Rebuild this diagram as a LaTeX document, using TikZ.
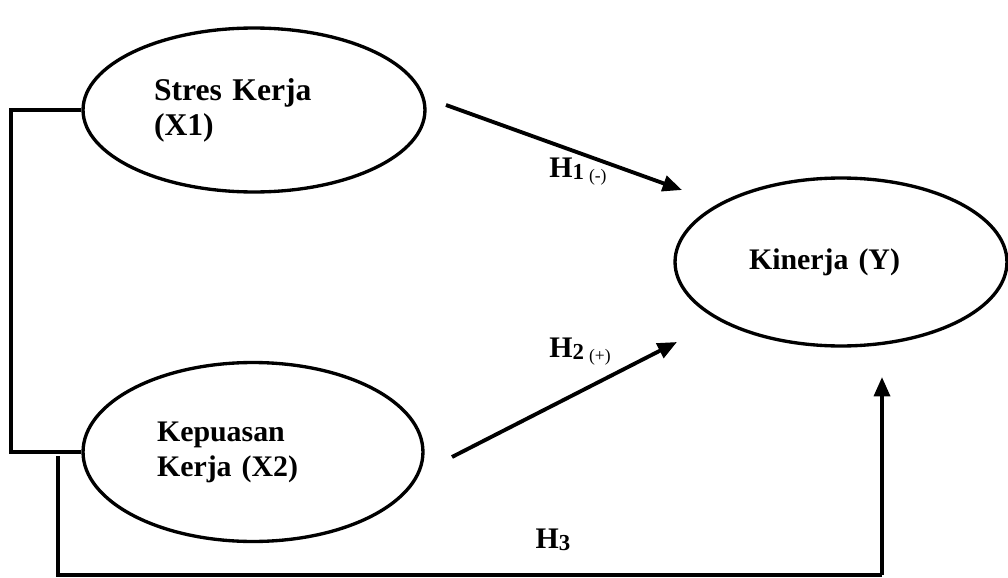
\documentclass[tikz,border=0pt]{standalone}
\usepackage{fontspec}
\setmainfont{Liberation Serif}
\usetikzlibrary{positioning}
\usetikzlibrary{shapes.geometric}
\usetikzlibrary{arrows.meta}

\begin{document}
\begin{tikzpicture}[x=0.02cm,y=-0.02cm,
						varnode/.style={ellipse, draw=black, line width=1.9pt, align=left, font=\fontsize{17}{20}\selectfont\bfseries},
						link/.style={line width=2.2pt, -{Triangle[length=11pt,width=9pt]}},
						hlabel/.style={font=\fontsize{17}{20}\selectfont\bfseries},
						]
						\useasboundingbox (0,0) rectangle (1008,578);
						%Nodes
						\node[varnode, minimum width=6.84cm, minimum height=3.28cm, text width=4cm, font=\fontsize{18}{20}\selectfont\bfseries]   (x1) at (254,110) {Stres Kerja\\(X1)};
						\node[varnode, minimum width=6.80cm, minimum height=3.58cm, text width=3.84cm]   (x2) at (253,452) {Kepuasan\\Kerja (X2)};
						\node[varnode, minimum width=6.64cm, minimum height=3.36cm, text width=3.68cm]   (y)  at (841,262) {Kinerja (Y)};
						\node[hlabel]   (h1) at (578,172) {H\raisebox{-0.1ex}{\fontsize{13}{14}\selectfont 1}\,\raisebox{-0.3ex}{\fontsize{10}{12}\selectfont\mdseries (-)}};
						\node[hlabel]   (h2) at (580,352) {H\raisebox{-0.1ex}{\fontsize{13}{14}\selectfont 2}\,\raisebox{-0.3ex}{\fontsize{10}{12}\selectfont\mdseries (+)}};
						\node[hlabel]   (h3) at (553,540) {H\raisebox{-0.1ex}{\fontsize{13}{14}\selectfont 3}};
						%Free ends
						\coordinate (a1) at (446,105);
						\coordinate (e1) at (682,190);
						\coordinate (a2) at (452,457);
						\coordinate (e2) at (677,342);
						\coordinate (b0) at (58,456);
						\coordinate (b1) at (882,575);
						\coordinate (e3) at (882,377);

						%Lines
						\draw[line width=2.2pt] (x1.west) -- ++(-70,0) coordinate (c1) |- (x2.west);
						\draw[line width=2.2pt] (b0) |- (b1);
						\draw[link] (b1) -- (e3);
						\draw[link] (a1) -- (e1);
						\draw[link] (a2) -- (e2);
					\end{tikzpicture}
\end{document}
